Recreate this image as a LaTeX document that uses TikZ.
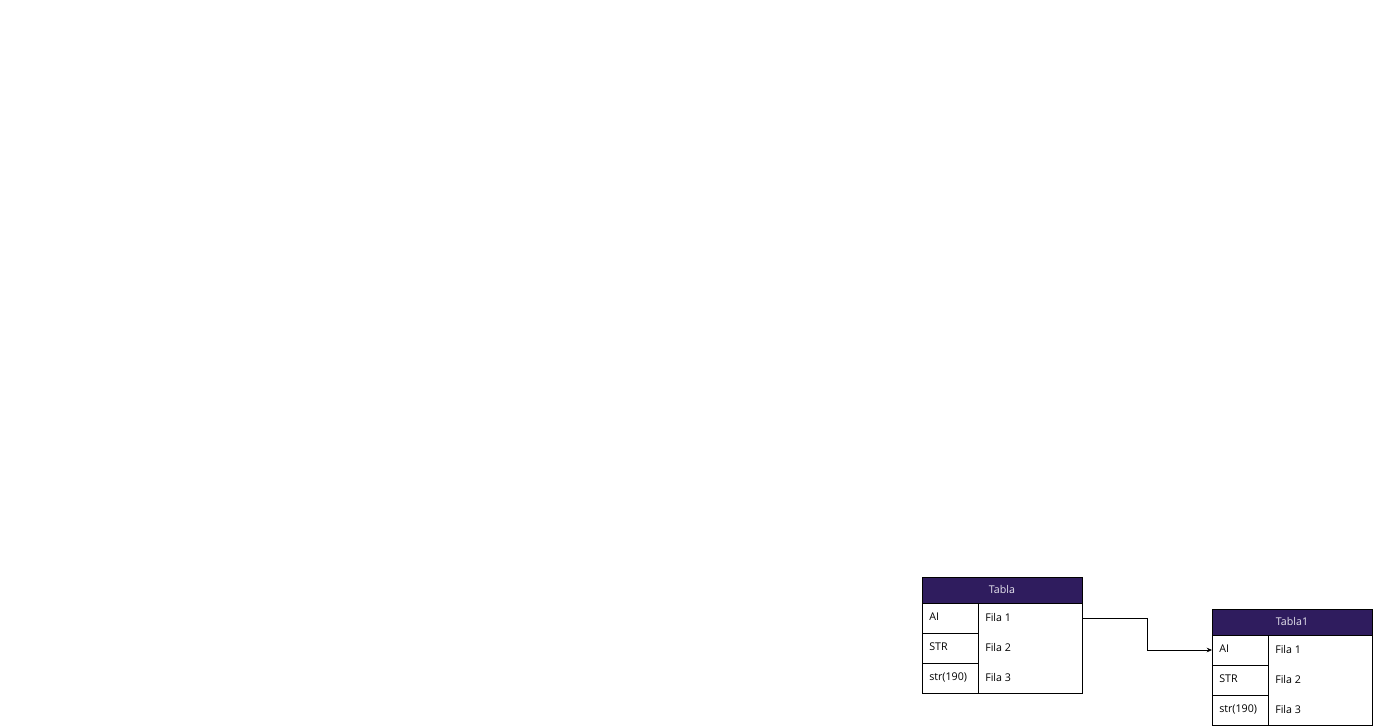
\documentclass[tikz,border=0pt]{standalone}
\usepackage{fontspec}
\setmainfont{Open Sans}
\usetikzlibrary{arrows.meta}
\definecolor{hdr}{HTML}{2F1C5E}
\definecolor{hdrtxt}{HTML}{E6E4EE}
\tikzset{
  hdrbox/.style={fill=hdr,draw=black,line width=0.6pt},
  tblline/.style={draw=black,line width=0.6pt},
  celltxt/.style={anchor=west,font=\fontsize{8}{9}\selectfont,inner sep=0pt},
  hdrlabel/.style={font=\fontsize{8}{9}\selectfont,text=hdrtxt,inner sep=0pt},
  conn/.style={draw=black,line width=0.6pt,-{Stealth[length=4pt,width=3.5pt]}}
}
\begin{document}
\begin{tikzpicture}[x=0.75pt,y=-0.75pt]
\useasboundingbox (0,0) rectangle (1374,727);
% Table 1
\fill[hdr] (922,577) rectangle (1082,603);
\draw[tblline] (922,577) rectangle (1082,693);
\draw[tblline] (922,603) -- (1082,603);
\draw[tblline] (978,603) -- (978,693);
\draw[tblline] (922,633) -- (978,633);
\draw[tblline] (922,663) -- (978,663);
\node[hdrlabel] (t1h) at (1002,589) {Tabla};
\node[celltxt] (t1k1) at (929,617) {AI};
\node[celltxt] (t1k2) at (929,647) {STR};
\node[celltxt] (t1k3) at (929,677) {str(190)};
\node[celltxt] (t1v1) at (985,617) {Fila 1};
\node[celltxt] (t1v2) at (985,647) {Fila 2};
\node[celltxt] (t1v3) at (985,677) {Fila 3};
\coordinate (t1r1) at (1082,618);
% Table 2
\fill[hdr] (1212,609) rectangle (1372,635);
\draw[tblline] (1212,609) rectangle (1372,725);
\draw[tblline] (1212,635) -- (1372,635);
\draw[tblline] (1268,635) -- (1268,725);
\draw[tblline] (1212,665) -- (1268,665);
\draw[tblline] (1212,695) -- (1268,695);
\node[hdrlabel] (t2h) at (1292,621) {Tabla1};
\node[celltxt] (t2k1) at (1219,649) {AI};
\node[celltxt] (t2k2) at (1219,679) {STR};
\node[celltxt] (t2k3) at (1219,709) {str(190)};
\node[celltxt] (t2v1) at (1275,649) {Fila 1};
\node[celltxt] (t2v2) at (1275,679) {Fila 2};
\node[celltxt] (t2v3) at (1275,709) {Fila 3};
\coordinate (t2l1) at (1212,650);
% connector
\draw[conn] (t1r1) -- (1147,618) -- (1147,650) -- (t2l1);
\end{tikzpicture}
\end{document}
